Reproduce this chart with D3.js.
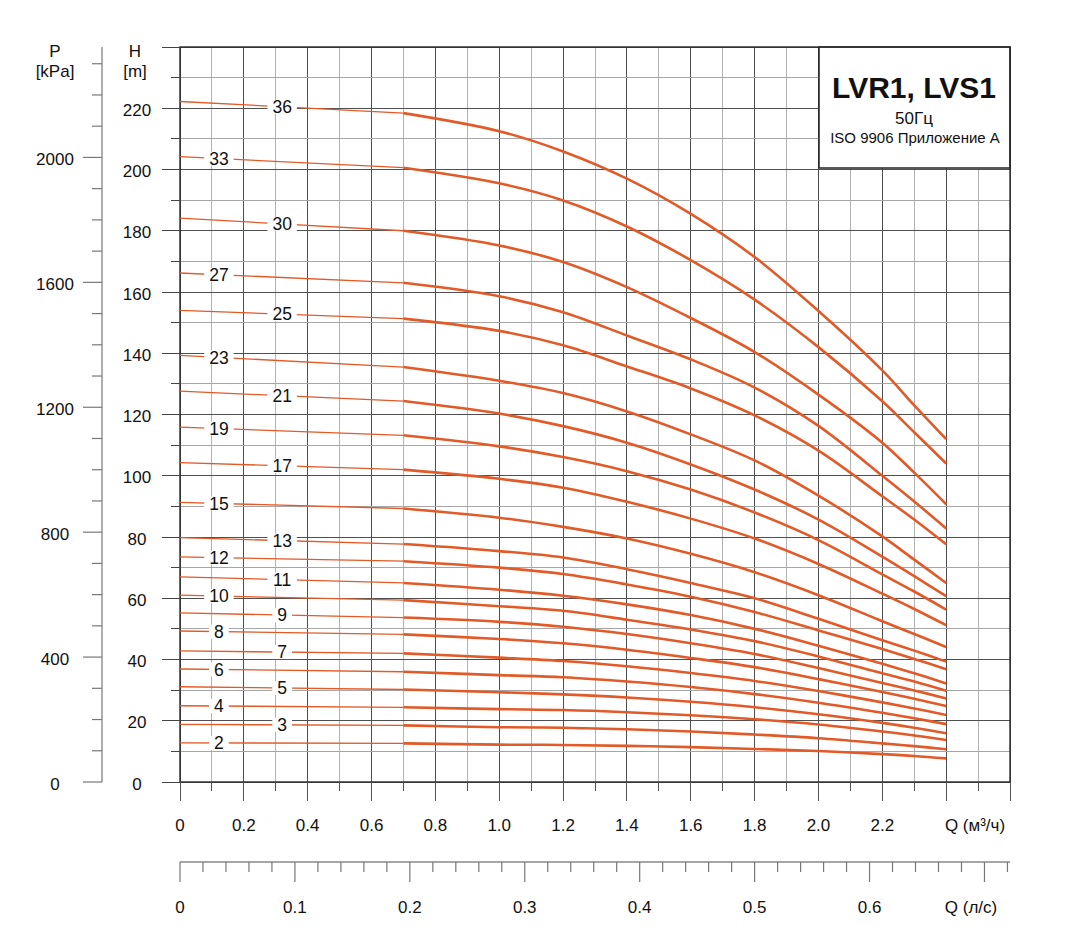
<!DOCTYPE html>
<html><head><meta charset="utf-8">
<script src="https://cdn.jsdelivr.net/npm/d3@7"></script>
<style>
body{margin:0;background:#fff}
text{font-family:"Liberation Sans",Arial,Helvetica,sans-serif;fill:#111}
</style>
</head><body><svg id="c" width="1069" height="932"></svg>
<script>
// ---- data ----
const Q_POINTS = [0, 0.7, 1.0, 1.2, 1.4, 1.6, 1.8, 2.0, 2.2, 2.3, 2.4];   // m3/h
const H36 = [222.2, 218.4, 212.5, 205.9, 197.0, 185.5, 171.4, 153.8, 134.4, 123.0, 112.0];
const H33 = [204.2, 200.6, 195.5, 189.9, 181.4, 170.4, 157.5, 142.0, 124.3, 114.2, 104.0];
const H30 = [184.1, 180.0, 175.2, 169.8, 161.6, 151.5, 140.4, 126.5, 110.8, 101.0, 90.7];
const H27 = [166.2, 163.0, 158.6, 153.4, 145.8, 138.0, 128.8, 116.3, 100.0, 91.6, 82.8];
const H25 = [154.0, 151.3, 147.3, 142.6, 135.7, 128.5, 119.7, 108.2, 93.3, 85.7, 77.6];
const H23 = [139.3, 135.5, 131.0, 127.0, 121.0, 113.5, 105.0, 93.5, 80.2, 72.6, 65.0];
const H21 = [127.6, 124.4, 120.3, 116.2, 110.8, 103.7, 95.5, 85.7, 73.6, 67.2, 60.7];
const H19 = [115.9, 113.2, 109.6, 106.1, 101.5, 95.5, 88.0, 79.0, 67.8, 62.2, 56.3];
const H17 = [104.3, 102.0, 99.0, 96.1, 91.5, 86.0, 79.5, 71.2, 61.5, 56.5, 51.2];
const H15 = [91.3, 89.3, 86.3, 83.3, 79.5, 74.5, 68.5, 61.0, 52.5, 48.3, 44.1];
const H13 = [79.8, 77.7, 75.4, 73.3, 69.5, 65.0, 60.0, 53.3, 46.3, 42.9, 39.3];
const H12 = [73.5, 72.1, 70.0, 67.9, 64.5, 60.5, 55.5, 49.5, 43.4, 40.2, 36.8];
const H11 = [67.0, 65.0, 62.8, 60.8, 58.0, 54.5, 50.0, 44.5, 38.6, 35.5, 32.2];
const H10 = [61.0, 59.4, 57.4, 55.9, 53.0, 49.8, 46.0, 41.0, 35.5, 32.8, 29.8];
const H9  = [55.2, 53.7, 52.3, 50.7, 48.3, 45.3, 41.8, 37.2, 32.3, 29.9, 27.3];
const H8  = [49.3, 48.2, 46.7, 45.3, 43.2, 40.5, 37.5, 33.6, 29.4, 27.2, 24.8];
const H7  = [42.8, 42.0, 40.6, 39.5, 37.8, 35.6, 33.0, 29.7, 26.0, 24.0, 21.9];
const H6  = [36.9, 36.0, 34.9, 34.2, 32.8, 31.0, 28.7, 25.9, 22.6, 20.8, 18.9];
const H5  = [31.1, 30.2, 29.3, 28.6, 27.6, 26.2, 24.4, 22.1, 19.3, 17.7, 15.9];
const H4  = [24.9, 24.4, 23.8, 23.5, 22.8, 21.8, 20.5, 18.8, 16.5, 15.2, 13.7];
const H3  = [18.8, 18.5, 17.9, 17.7, 17.2, 16.5, 15.5, 14.3, 12.6, 11.7, 10.7];
const H2  = [12.8, 12.6, 12.2, 12.1, 11.8, 11.4, 10.8, 10.1, 9.1, 8.5, 7.7];
const STAGES = [36, 33, 30, 27, 25, 23, 21, 19, 17, 15, 13, 12, 11, 10, 9, 8, 7, 6, 5, 4, 3, 2];
const HEADS  = [H36, H33, H30, H27, H25, H23, H21, H19, H17, H15, H13, H12, H11, H10, H9, H8, H7, H6, H5, H4, H3, H2];

const H_LABELS = [0, 20, 40, 60, 80, 100, 120, 140, 160, 180, 200, 220];
const P_LABELS = [0, 400, 800, 1200, 1600, 2000];
const Q_LABELS = [0, 0.2, 0.4, 0.6, 0.8, 1.0, 1.2, 1.4, 1.6, 1.8, 2.0, 2.2];
const QLS_LABELS = [0, 0.1, 0.2, 0.3, 0.4, 0.5, 0.6];
const TITLE = "LVR1, LVS1";
const SUB1 = "50Гц";
const SUB2 = "ISO 9906 Приложение А";
const Q_UNIT = "Q (м³/ч)";
const QLS_UNIT = "Q (л/с)";

// ---- scales ----
const svg = d3.select("#c");
const X0 = 180, X1 = 1010, Y0 = 782, Y1 = 47;
const x = d3.scaleLinear().domain([0, 2.6]).range([X0, X1]);
const y = d3.scaleLinear().domain([0, 240]).range([Y0, Y1]);
const KPA_PER_M = 9.80665;
const yP = d3.scaleLinear().domain([0, 240 * KPA_PER_M]).range([Y0, Y1]);
const xLs = d3.scaleLinear().domain([0, 2.6 / 3.6]).range([X0, X1]);
const COL = "#e25a28";
const near = (a, b) => Math.abs(a - b) < 1e-6;

// ---- grid ----
const g = svg.append("g");
const qGrid = d3.range(0, 2.6001, 0.1);
const hGrid = d3.range(0, 240.001, 10);
g.selectAll(".vg").data(qGrid).join("line")
  .attr("x1", d => x(d)).attr("x2", d => x(d)).attr("y1", Y0).attr("y2", Y1)
  .attr("stroke", (d, i) => i % 2 === 0 ? "#4f4f4f" : "#b2b2b2").attr("stroke-width", 1).attr("shape-rendering", "crispEdges");
g.selectAll(".hg").data(hGrid).join("line")
  .attr("x1", X0).attr("x2", X1).attr("y1", d => y(d)).attr("y2", d => y(d))
  .attr("stroke", (d, i) => i % 2 === 0 ? "#4f4f4f" : "#a6a6a6").attr("stroke-width", 1).attr("shape-rendering", "crispEdges");

// ---- legend box ----
svg.append("rect").attr("x", 819).attr("y", Y1).attr("width", X1 - 819).attr("height", 121)
  .attr("fill", "#fff").attr("stroke", "#222").attr("stroke-width", 1.5);
svg.append("text").attr("x", 914).attr("y", 98).attr("text-anchor", "middle")
  .attr("font-size", 30).attr("font-weight", "bold").text(TITLE);
svg.append("text").attr("x", 914).attr("y", 124).attr("text-anchor", "middle")
  .attr("font-size", 17).text(SUB1);
svg.append("text").attr("x", 915).attr("y", 143).attr("text-anchor", "middle")
  .attr("font-size", 15).text(SUB2);

// ---- frame ----
svg.append("rect").attr("x", X0).attr("y", Y1).attr("width", X1 - X0).attr("height", Y0 - Y1)
  .attr("fill", "none").attr("stroke", "#2a2a2a").attr("stroke-width", 1.4);

// ---- curves ----
const thinLine = d3.line().x(d => x(d[0])).y(d => y(d[1]));
const thickLine = d3.line().x(d => x(d[0])).y(d => y(d[1])).curve(d3.curveCatmullRom.alpha(0.5));
const cg = svg.append("g");
STAGES.forEach((n, i) => {
  const pts = Q_POINTS.map((q, k) => [q, HEADS[i][k]]);
  const thin = pts.filter(p => p[0] <= 0.7 + 1e-9);
  const thick = pts.filter(p => p[0] >= 0.7 - 1e-9);
  cg.append("path").attr("d", thinLine(thin)).attr("fill", "none").attr("stroke", COL).attr("stroke-width", 1.3);
  cg.append("path").attr("d", thickLine(thick)).attr("fill", "none").attr("stroke", COL).attr("stroke-width", 2.6).attr("stroke-linecap", "butt");
  // label on thin part, alternating positions
  const ql = (i % 2 === 0) ? 0.32 : 0.122;
  const hl = d3.interpolateNumber(HEADS[i][0], HEADS[i][1])(ql / 0.7);
  const lx = x(ql), ly = y(hl);
  const txt = String(n);
  const w = txt.length * 9.7 + 10;
  cg.append("rect").attr("x", lx - w / 2).attr("y", ly - 7).attr("width", w).attr("height", 14).attr("fill", "#fff");
  cg.append("text").attr("x", lx).attr("y", ly + 6.3).attr("text-anchor", "middle").attr("font-size", 17.5).text(txt);
});

// ---- H axis ----
const hTicks = svg.append("g");
hTicks.selectAll("line").data(hGrid).join("line")
  .attr("x1", d => near(d % 20, 0) || near(d % 20, 20) ? X0 - 18 : X0 - 9).attr("x2", X0)
  .attr("y1", d => y(d)).attr("y2", d => y(d))
  .attr("stroke", "#444").attr("stroke-width", 1).attr("shape-rendering", "crispEdges");
hTicks.selectAll("text").data(H_LABELS).join("text")
  .attr("x", 137).attr("y", d => y(d) + 7.5).attr("text-anchor", "middle").attr("font-size", 17).text(d => d);
svg.append("text").attr("x", 135).attr("y", 57).attr("text-anchor", "middle").attr("font-size", 17).text("H");
svg.append("text").attr("x", 135).attr("y", 77).attr("text-anchor", "middle").attr("font-size", 17).text("[m]");

// ---- P axis ----
const PX = 102;
const pAll = d3.range(0, 2300.1, 100);
const pg = svg.append("g");
pg.append("line").attr("x1", PX).attr("x2", PX).attr("y1", Y0).attr("y2", Y1)
  .attr("stroke", "#777").attr("stroke-width", 1.2);
pg.selectAll(".pt").data(pAll).join("line")
  .attr("x1", d => d % 400 === 0 ? PX - 19 : PX - 10).attr("x2", PX)
  .attr("y1", d => yP(d)).attr("y2", d => yP(d))
  .attr("stroke", "#777").attr("stroke-width", 1.2);
pg.selectAll("text").data(P_LABELS).join("text")
  .attr("x", 55).attr("y", d => yP(d) + 7.5).attr("text-anchor", "middle").attr("font-size", 17).text(d => d);
svg.append("text").attr("x", 55).attr("y", 57).attr("text-anchor", "middle").attr("font-size", 17).text("P");
svg.append("text").attr("x", 55).attr("y", 77).attr("text-anchor", "middle").attr("font-size", 17).text("[kPa]");

// ---- Q axis (m3/h) ----
const qa = svg.append("g");
qa.selectAll("line").data(qGrid).join("line")
  .attr("x1", d => x(d)).attr("x2", d => x(d)).attr("y1", Y0)
  .attr("y2", (d, i) => i % 2 === 0 ? Y0 + 19 : Y0 + 9)
  .attr("stroke", "#555").attr("stroke-width", 1).attr("shape-rendering", "crispEdges");
qa.selectAll("text").data(Q_LABELS).join("text")
  .attr("x", d => x(d)).attr("y", 831).attr("text-anchor", "middle").attr("font-size", 17)
  .text(d => d === 0 ? "0" : d.toFixed(1));
svg.append("text").attr("x", 975).attr("y", 831).attr("text-anchor", "middle").attr("font-size", 17).text(Q_UNIT);

// ---- Q axis (l/s) ----
const LY = 862;
const la = svg.append("g");
la.append("line").attr("x1", X0).attr("x2", X1).attr("y1", LY).attr("y2", LY).attr("stroke", "#888").attr("stroke-width", 1.3);
const lsTicks = d3.range(0, 0.7201, 0.02);
la.selectAll(".lt").data(lsTicks).join("line")
  .attr("x1", d => xLs(d)).attr("x2", d => xLs(d)).attr("y1", LY)
  .attr("y2", (d, i) => i % 5 === 0 ? LY + 20 : LY + 10)
  .attr("stroke", "#777").attr("stroke-width", 1.2);
la.selectAll("text").data(QLS_LABELS).join("text")
  .attr("x", d => xLs(d)).attr("y", 913).attr("text-anchor", "middle").attr("font-size", 17)
  .text(d => d === 0 ? "0" : d.toFixed(1));
svg.append("text").attr("x", 971).attr("y", 913).attr("text-anchor", "middle").attr("font-size", 17).text(QLS_UNIT);
</script>
</body></html>
